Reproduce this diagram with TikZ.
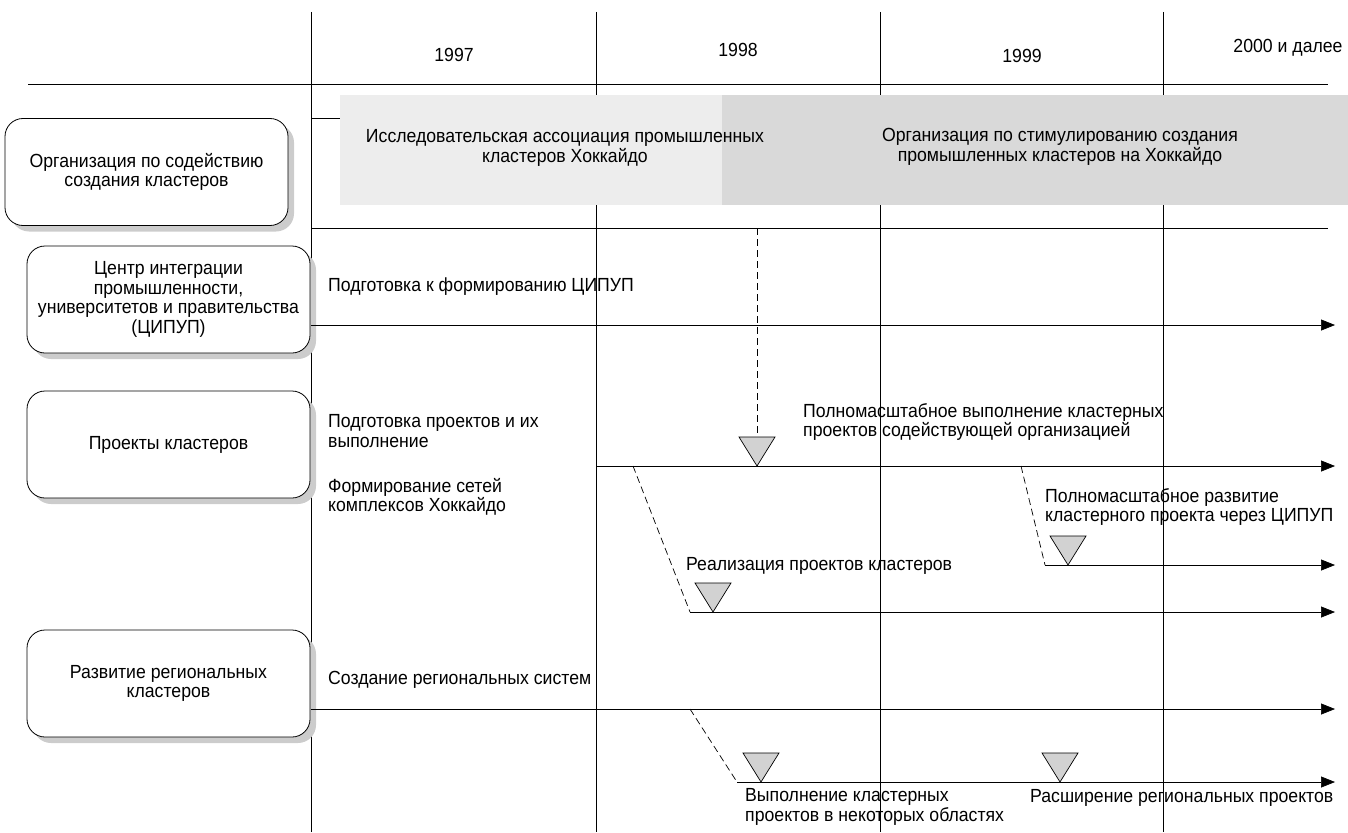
\documentclass[tikz,border=0pt]{standalone}
\usepackage{fontspec}
\setmainfont{Liberation Sans}[FakeStretch=0.93]
\usetikzlibrary{arrows.meta,shadows}
\begin{document}
\begin{tikzpicture}[x=1pt,y=-1pt,
  every node/.style={font=\fontsize{19}{19.5}\selectfont, inner sep=0pt},
  rowbox/.style={draw, line width=0.8pt, rounded corners=18pt, fill=white,
    minimum width=283pt, minimum height=107pt, align=center,
    drop shadow={shadow xshift=6pt, shadow yshift=-6pt, fill=gray!40, opacity=1}},
  gridline/.style={line width=0.7pt},
  flow/.style={line width=0.7pt, -{Triangle[length=14pt,width=11pt]}},
  jump/.style={line width=0.7pt, dash pattern=on 7pt off 4pt},
  lbl/.style={anchor=west, align=left},
  milestone/.pic={\draw[fill=gray!35, line width=0.7pt] (-18,-29) -- (18,-29) -- (0,0) -- cycle;},
]
\useasboundingbox (0,0) rectangle (1348,832);

% year columns and header rules
\foreach \gx in {311,596,880,1163} \draw[gridline] (\gx,12) -- (\gx,832);
\draw[gridline] (28,84) -- (1328,84);
\draw[gridline] (311,228) -- (1328,228);
\draw[gridline] (311,118) -- (340,118);

\node (y97) at (454,55) {1997};
\node (y98) at (738,50) {1998};
\node (y99) at (1022,56) {1999};
\node (y00) at (1288,48) {2000 и далее};

% shaded band of the two promoting organisations
\fill[gray!14] (340,95) rectangle (722,205);
\fill[gray!30] (722,95) rectangle (1348,205);
\node[align=center] (assoc) at (565,148) {Исследовательская ассоциация промышленных\\кластеров Хоккайдо};
\node[align=center] (promo) at (1060,147) {Организация по стимулированию создания\\промышленных кластеров на Хоккайдо};

% row headings
\node[rowbox] (org) at (146.5,172) {Организация по содействию\\создания кластеров};
\node[rowbox] (cipup) at (168.5,299.5) {Центр интеграции\\промышленности,\\университетов и правительства\\(ЦИПУП)};
\node[rowbox] (proj) at (168.5,444.5) {Проекты кластеров};
\node[rowbox] (reg) at (168.5,683.5) {Развитие региональных\\кластеров};

% timeline anchors
\coordinate (aS) at (311,325);  \coordinate (aE) at (1335,325);
\coordinate (bS) at (596,466);  \coordinate (bE) at (1335,466);
\coordinate (bTop) at (757,228); \coordinate (bM) at (757,466);
\coordinate (bJ1) at (633,466); \coordinate (cS) at (690,612); \coordinate (cE) at (1335,612);
\coordinate (cM) at (713,612);
\coordinate (bJ2) at (1021,466); \coordinate (dS) at (1045,565); \coordinate (dE) at (1335,565);
\coordinate (dM) at (1068,565);
\coordinate (eS) at (311,709);  \coordinate (eE) at (1335,709);
\coordinate (eJ) at (690,709);  \coordinate (fS) at (737,782); \coordinate (fE) at (1335,782);
\coordinate (fM1) at (761,782); \coordinate (fM2) at (1060,782);

% timelines
\draw[flow] (aS) -- (aE);
\draw[jump] (bTop) -- (bM);
\draw[flow] (bS) -- (bE);
\draw[jump] (bJ1) -- (cS);
\draw[flow] (cS) -- (cE);
\draw[jump] (bJ2) -- (dS);
\draw[flow] (dS) -- (dE);
\draw[flow] (eS) -- (eE);
\draw[jump] (eJ) -- (fS);
\draw[flow] (fS) -- (fE);

% milestones
\pic at (bM) {milestone};
\pic at (cM) {milestone};
\pic at (dM) {milestone};
\pic at (fM1) {milestone};
\pic at (fM2) {milestone};

% labels
\node[lbl] (l1) at (328,287) {Подготовка к формированию ЦИПУП};
\node[lbl] (l2) at (328,431) {Подготовка проектов и их\\выполнение};
\node[lbl] (l3) at (328,497) {Формирование сетей\\комплексов Хоккайдо};
\node[lbl] (l4) at (328,680) {Создание региональных систем};
\node[lbl] (l5) at (803,422) {Полномасштабное выполнение кластерных\\проектов содействующей организацией};
\node[lbl] (l6) at (686,566) {Реализация проектов кластеров};
\node[lbl] (l7) at (1045,507) {Полномасштабное развитие\\кластерного проекта через ЦИПУП};
\node[lbl] (l8) at (745,807) {Выполнение кластерных\\проектов в некоторых областях};
\node[lbl] (l9) at (1030,798) {Расширение региональных проектов};
\end{tikzpicture}
\end{document}
